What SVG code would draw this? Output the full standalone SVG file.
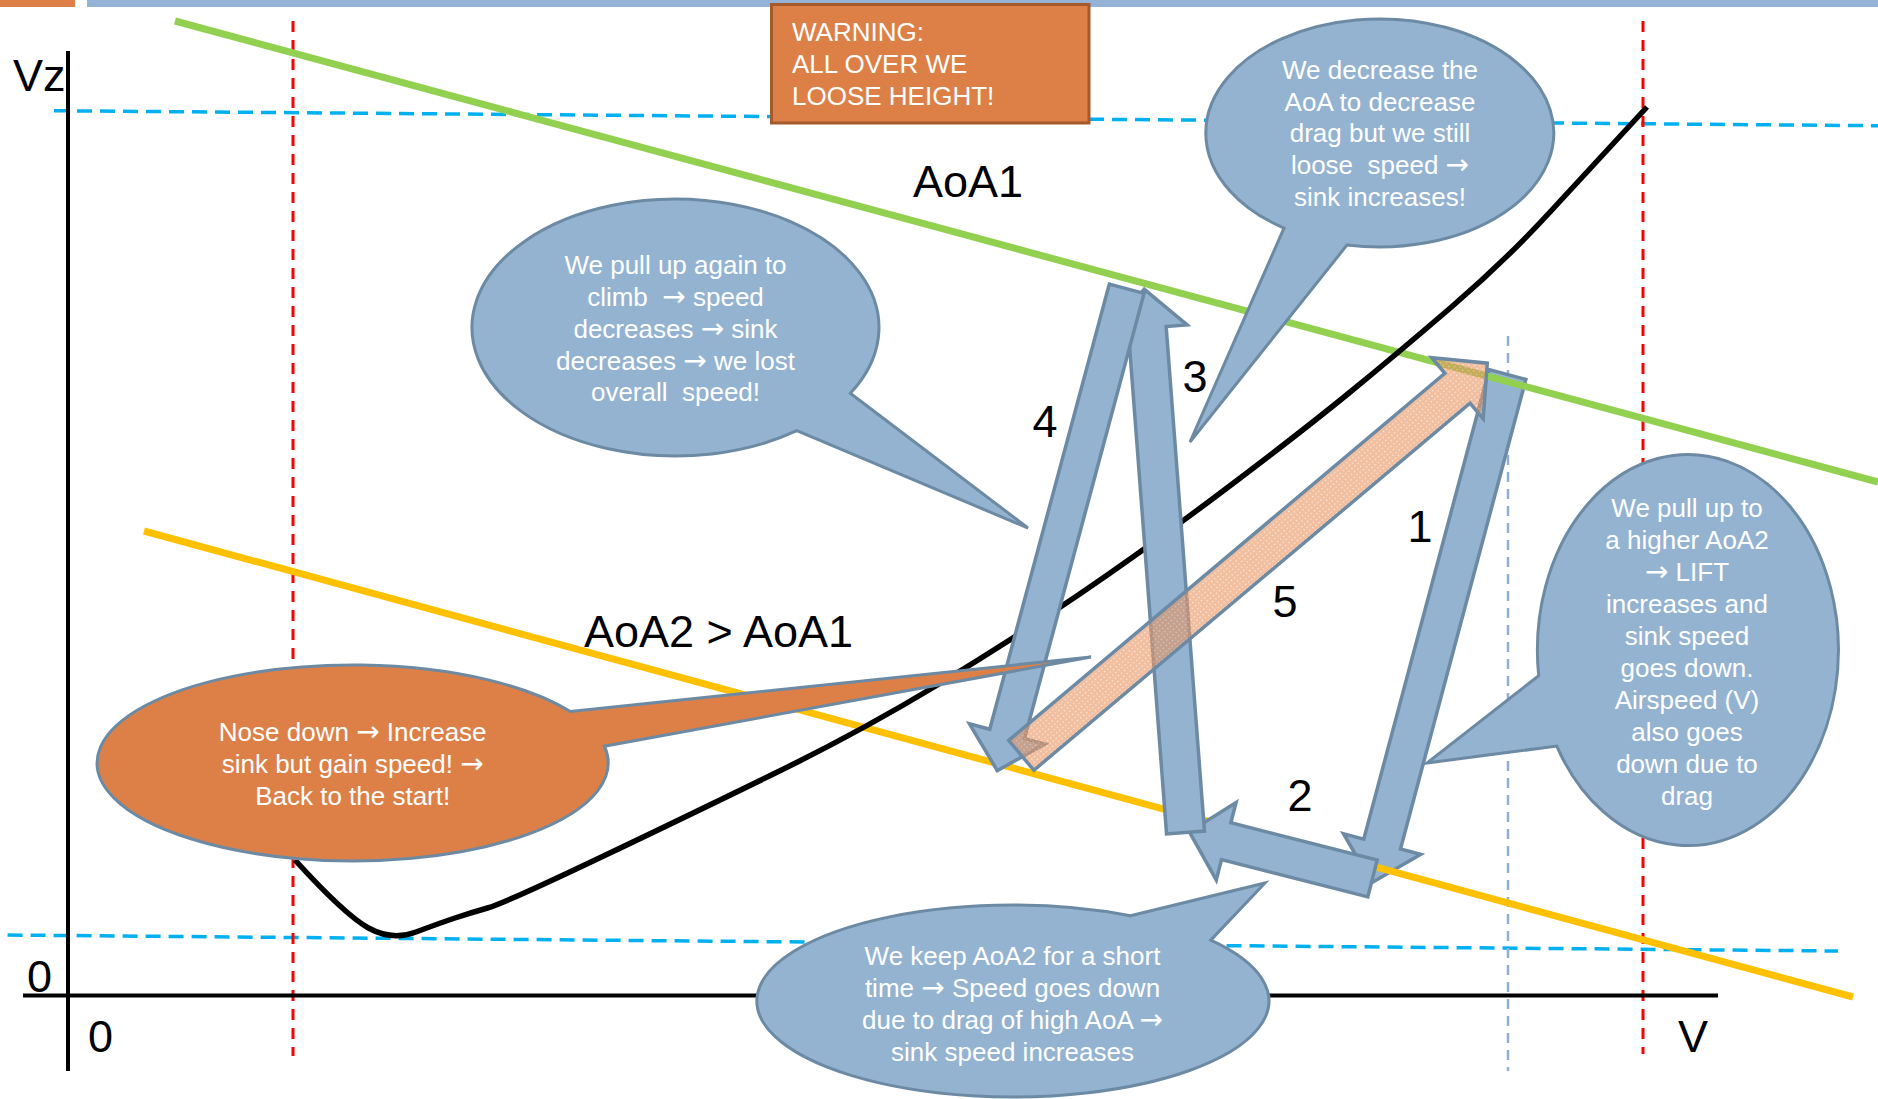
<svg xmlns="http://www.w3.org/2000/svg" width="1878" height="1099" viewBox="0 0 1878 1099">
<defs>
<style>
.lbl{font-family:"Liberation Sans",Arial,sans-serif;fill:#000;font-size:45px}
.num{font-family:"Liberation Sans",Arial,sans-serif;fill:#000;font-size:45px;text-anchor:middle}
.bt{font-family:"Liberation Sans",Arial,sans-serif;fill:#fff;font-size:26px;text-anchor:middle;white-space:pre}
.ar{font-family:"DejaVu Sans",sans-serif;font-size:28px}
.wt{font-family:"Liberation Sans",Arial,sans-serif;fill:#fff;font-size:26px}
.bub{fill:#94B3D1;stroke:#6C8AA4;stroke-width:3;stroke-linejoin:miter}
.bubo{fill:#DD8047;stroke:#6C8AA4;stroke-width:3;stroke-linejoin:miter}
.arr{fill:#94B3D1;stroke:#6C8AA4;stroke-width:3.5;stroke-linejoin:miter}
.arr5{fill:url(#dots);fill-opacity:0.6;stroke:#6C8AA4;stroke-width:3.5;stroke-linejoin:miter}
.vd{stroke:#FF0000;stroke-width:3;stroke-dasharray:11 8;fill:none}
.hd{stroke:#00B0F0;stroke-width:3.5;stroke-dasharray:15 8;fill:none}
.ld{stroke:#8FB0D3;stroke-width:2.5;stroke-dasharray:10 7;fill:none}
</style>
<pattern id="dots" width="4" height="4" patternUnits="userSpaceOnUse">
<rect width="4" height="4" fill="#E89460"/>
<rect x="1" y="1" width="1.2" height="1.2" fill="#FFE6D6"/>
</pattern>
</defs>

<g id="topbar">
<rect x="0" y="0" width="75" height="7" fill="#DD8047"/>
<rect x="87" y="0" width="1791" height="7" fill="#95B3D7"/>
</g>

<g id="gridlines">
<line class="hd" x1="54" y1="110.7" x2="1878" y2="125.7"/>
<line class="hd" x1="7.6" y1="935" x2="1838" y2="951"/>
<line class="vd" x1="293" y1="21" x2="293" y2="1056"/>
<line class="vd" x1="1643" y1="21" x2="1643" y2="1054"/>
<line class="ld" x1="1508" y1="336" x2="1508" y2="1071"/>
</g>

<g id="axes" stroke="#000" stroke-width="4">
<line x1="68" y1="51" x2="68" y2="1071"/>
<line x1="23" y1="995.5" x2="1718" y2="995.5"/>
</g>

<g id="axis-labels">
<text class="lbl" x="13" y="91">Vz</text>
<text class="lbl" x="27" y="992">0</text>
<text class="lbl" x="88" y="1052">0</text>
<text class="lbl" x="1678" y="1052">V</text>
</g>

<g id="connectors">
<polygon id="arrow1" class="arr" points="0,-19 486,-19 486,-40 526,0 486,40 486,19 0,19" transform="translate(1507.5,374.5) rotate(104.95)"/>
<line id="aoa1-line" x1="175" y1="21" x2="1878" y2="482" stroke="#92D050" stroke-width="7"/>
<line id="aoa2-line" x1="144" y1="531" x2="1853" y2="997" stroke="#FFC000" stroke-width="7"/>
<path id="polar-curve" fill="none" stroke="#000" stroke-width="5.5" stroke-linejoin="round" stroke-linecap="butt" d="M295,860 Q345,915 368.5,928 Q392,941 416,932 Q440,923 455,918 Q470,913 487.5,908 Q505,903 602.5,856.5 Q700,810 780.5,770.5 Q861,731 936.5,685.5 Q1012,640 1079,594.5 Q1146,549 1223,491 Q1300,433 1349,393 Q1398,353 1452,306.5 Q1506,260 1550.5,211.5 Q1595,163 1647,107"/>
<polygon id="arrow2" class="arr" points="0,-19 151,-19 151,-40 189,0 151,40 151,19 0,19" transform="translate(1372.5,878.5) rotate(194.3)"/>
<polygon id="arrow3" class="arr" points="0,-19 506,-19 506,-40 545,0 506,40 506,19 0,19" transform="translate(1185.5,832.5) rotate(-94.34)"/>
<polygon id="arrow4" class="arr" points="0,-18 461,-18 461,-39 499,0 461,39 461,18 0,18" transform="translate(1126.7,288.7) rotate(105.03)"/>
<polygon id="arrow5" class="arr5" points="0,-19.5 570,-19.5 570,-40 609,0 570,40 570,19.5 0,19.5" transform="translate(1021.3,755.3) rotate(-40.08)"/>
</g>

<g id="labels">
<text class="lbl" x="913" y="197">AoA1</text>
<text class="lbl" x="584" y="647">AoA2 &gt; AoA1</text>
<text class="num" x="1420" y="542">1</text>
<text class="num" x="1300" y="811">2</text>
<text class="num" x="1195" y="392">3</text>
<text class="num" x="1045" y="437">4</text>
<text class="num" x="1285" y="617">5</text>
</g>

<g id="bubble-pullup-again">
<path class="bub" d="M850.3,393.3 L1028,528 L796.8,430.7 A203.5,128.5 0 1 1 850.3,393.3 Z"/>
<text class="bt" x="675.5" y="274">We pull up again to</text>
<text class="bt" x="675.5" y="306">climb  <tspan class="ar">→</tspan> speed</text>
<text class="bt" x="675.5" y="338">decreases <tspan class="ar">→</tspan> sink</text>
<text class="bt" x="675.5" y="370">decreases <tspan class="ar">→</tspan> we lost</text>
<text class="bt" x="675.5" y="401">overall  speed!</text>
</g>

<g id="bubble-decrease-aoa">
<path class="bub" d="M1284,228.1 L1190,442 L1347.1,244.9 A174,114 0 1 0 1284,228.1 Z"/>
<text class="bt" x="1380" y="79">We decrease the</text>
<text class="bt" x="1380" y="111">AoA to decrease</text>
<text class="bt" x="1380" y="142">drag but we still</text>
<text class="bt" x="1380" y="174">loose  speed <tspan class="ar">→</tspan></text>
<text class="bt" x="1380" y="206">sink increases!</text>
</g>

<g id="bubble-pullup-aoa2">
<path class="bub" d="M1538.7,675.7 L1427,763 L1556.8,746.1 A150.5,195.5 0 1 0 1538.7,675.7 Z"/>
<text class="bt" x="1687" y="517">We pull up to</text>
<text class="bt" x="1687" y="549">a higher AoA2</text>
<text class="bt" x="1687" y="581"><tspan class="ar">→</tspan> LIFT</text>
<text class="bt" x="1687" y="613">increases and</text>
<text class="bt" x="1687" y="645">sink speed</text>
<text class="bt" x="1687" y="677">goes down.</text>
<text class="bt" x="1687" y="709">Airspeed (V)</text>
<text class="bt" x="1687" y="741">also goes</text>
<text class="bt" x="1687" y="773">down due to</text>
<text class="bt" x="1687" y="805">drag</text>
</g>

<g id="bubble-keep-aoa2">
<path class="bub" d="M1130.4,915.7 L1265,883 L1210.8,940.1 A256,96 0 1 1 1130.4,915.7 Z"/>
<text class="bt" x="1012.5" y="965">We keep AoA2 for a short</text>
<text class="bt" x="1012.5" y="997">time <tspan class="ar">→</tspan> Speed goes down</text>
<text class="bt" x="1012.5" y="1029">due to drag of high AoA <tspan class="ar">→</tspan></text>
<text class="bt" x="1012.5" y="1061">sink speed increases</text>
</g>

<g id="bubble-nose-down">
<path class="bubo" d="M570.3,711.6 L1091,657 L604.4,746.2 A255.5,98 0 1 1 570.3,711.6 Z"/>
<text class="bt" x="352.7" y="741">Nose down <tspan class="ar">→</tspan> Increase</text>
<text class="bt" x="352.7" y="773">sink but gain speed! <tspan class="ar">→</tspan></text>
<text class="bt" x="352.7" y="805">Back to the start!</text>
</g>

<g id="warning">
<rect x="771.5" y="4.5" width="317.5" height="118.5" fill="#DD8047" stroke="#A65A2C" stroke-width="3"/>
<text class="wt" x="792" y="41">WARNING:</text>
<text class="wt" x="792" y="73">ALL OVER WE</text>
<text class="wt" x="792" y="105">LOOSE HEIGHT!</text>
</g>
</svg>
